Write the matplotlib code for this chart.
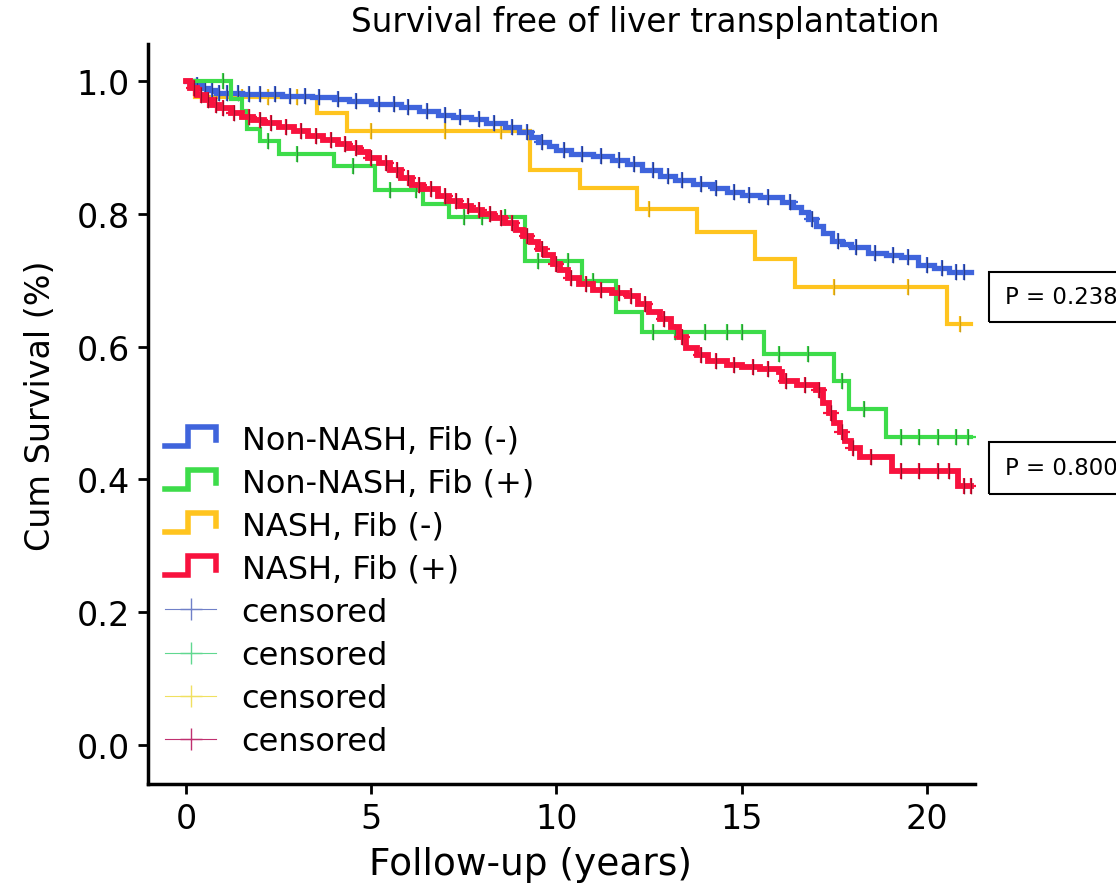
import numpy as np
import matplotlib
matplotlib.use("Agg")
import matplotlib.pyplot as plt
from matplotlib.lines import Line2D
from matplotlib.patches import Rectangle
from matplotlib.legend_handler import HandlerBase
from matplotlib import font_manager

# Kaplan-Meier curves (event times in years, survival after event)
end_time = 21.2

blue_t = [0.2, 0.4, 0.6, 0.8, 1.5, 2.6, 3.4, 4.0, 4.4, 5.0, 5.8, 6.3, 6.8, 7.2, 7.7, 8.1, 8.6, 9.0,
          9.3, 9.5, 9.8, 10.0, 10.4, 11.0, 11.5, 11.9, 12.3, 12.8, 13.2, 13.7, 14.2, 14.6, 15.0,
          15.5, 16.1, 16.4, 16.6, 16.8, 17.0, 17.2, 17.45, 17.7, 17.95, 18.4, 18.9, 19.3, 19.75,
          20.2, 20.6]
blue_s = [0.995, 0.99, 0.987, 0.983, 0.981, 0.978, 0.976, 0.973, 0.970, 0.966, 0.962, 0.956, 0.950,
          0.947, 0.943, 0.938, 0.932, 0.924, 0.916, 0.908, 0.902, 0.897, 0.890, 0.887, 0.881, 0.875,
          0.866, 0.857, 0.851, 0.845, 0.839, 0.833, 0.829, 0.825, 0.818, 0.810, 0.803, 0.792, 0.782,
          0.772, 0.760, 0.755, 0.750, 0.742, 0.738, 0.735, 0.724, 0.718, 0.713]
blue_cens = [0.3, 0.5, 0.7, 0.9, 1.1, 1.4, 1.7, 2.0, 2.4, 2.8, 3.2, 3.6, 4.1, 4.6, 5.2, 5.6, 6.0, 6.5,
             7.0, 7.4, 7.9, 8.3, 8.8, 9.2, 9.6, 10.2, 10.7, 11.2, 11.7, 12.1, 12.6, 13.0, 13.4, 13.9,
             14.3, 14.8, 15.2, 15.7, 16.3, 16.9, 17.6, 18.1, 18.6, 19.1, 19.5, 20.0, 20.4, 20.8, 21.0]

green_t = [1.2, 1.5, 1.65, 2.0, 2.5, 4.0, 5.1, 6.4, 7.1, 9.15, 10.7, 11.6, 12.3, 15.6, 17.5, 17.9, 18.9]
green_s = [0.973, 0.955, 0.928, 0.910, 0.890, 0.872, 0.837, 0.815, 0.795, 0.729, 0.699, 0.652, 0.622,
           0.589, 0.548, 0.506, 0.464]
green_cens = [1.0, 2.2, 3.0, 4.5, 5.5, 6.2, 7.5, 8.0, 8.6, 9.5, 10.3, 11.0, 12.6, 13.2, 14.0, 14.6,
              15.0, 16.0, 16.8, 17.7, 18.3, 19.3, 19.8, 20.3, 20.8, 21.1]

yellow_t = [0.25, 3.54, 4.35, 9.28, 10.63, 12.17, 13.79, 15.36, 16.44, 20.54]
yellow_s = [0.977, 0.953, 0.925, 0.867, 0.840, 0.807, 0.773, 0.732, 0.690, 0.634]
yellow_cens = [0.8, 1.5, 2.2, 3.0, 5.0, 7.0, 8.5, 12.5, 17.5, 19.5, 20.9]

red_t = [0.1, 0.3, 0.5, 0.7, 0.9, 1.2, 1.5, 1.8, 2.1, 2.5, 2.9, 3.3, 3.7, 4.1, 4.4, 4.7, 4.9, 5.2,
         5.5, 5.8, 6.1, 6.4, 6.8, 7.1, 7.4, 7.7, 8.0, 8.3, 8.6, 8.9, 9.1, 9.3, 9.5, 9.7, 9.9, 10.1,
         10.3, 10.6, 11.0, 11.5, 11.9, 12.2, 12.5, 12.8, 13.1, 13.3, 13.5, 13.8, 14.1, 14.6, 15.0,
         15.5, 16.0, 16.1, 16.5, 17.0, 17.2, 17.35, 17.5, 17.65, 17.8, 17.95, 18.2, 19.05, 20.85]
red_s = [0.99, 0.98, 0.972, 0.965, 0.96, 0.953, 0.947, 0.942, 0.937, 0.931, 0.925, 0.918, 0.912, 0.905,
         0.900, 0.893, 0.885, 0.877, 0.866, 0.855, 0.844, 0.838, 0.828, 0.820, 0.812, 0.806, 0.800,
         0.794, 0.787, 0.776, 0.767, 0.758, 0.748, 0.738, 0.725, 0.715, 0.703, 0.695, 0.686, 0.681,
         0.676, 0.665, 0.652, 0.642, 0.630, 0.615, 0.598, 0.588, 0.578, 0.573, 0.569, 0.566, 0.562,
         0.549, 0.543, 0.535, 0.515, 0.500, 0.485, 0.471, 0.458, 0.447, 0.434, 0.413, 0.390]
red_cens = [0.2, 0.4, 0.6, 0.8, 1.0, 1.3, 1.7, 2.0, 2.3, 2.7, 3.1, 3.5, 3.9, 4.3, 4.6, 5.0, 5.4, 5.7,
            6.0, 6.3, 6.6, 7.0, 7.3, 7.6, 7.9, 8.2, 8.5, 8.8, 9.2, 9.6, 10.0, 10.4, 10.8, 11.2, 11.7,
            12.0, 12.4, 12.9, 13.4, 13.9, 14.3, 14.8, 15.3, 15.7, 16.2, 16.7, 17.1, 17.4, 17.7, 18.0,
            18.5, 19.3, 19.8, 20.3, 20.6, 21.0, 21.2]

labels = ["Non-NASH, Fib (-)", "Non-NASH, Fib (+)", "NASH, Fib (-)", "NASH, Fib (+)"]
p_values = ["P = 0.238", "P = 0.800"]

names = {f.name for f in font_manager.fontManager.ttflist}
narrow = "Liberation Sans Narrow" if "Liberation Sans Narrow" in names else "DejaVu Sans"

c_blue, c_green, c_yellow, c_red = "#3f64dc", "#3ddc4a", "#ffc41f", "#f8123e"


class StepHandler(HandlerBase):
    def create_artists(self, legend, orig_handle, xdescent, ydescent, width, height, fontsize, trans):
        x0, y0 = -xdescent, -ydescent
        xs = [x0, x0 + 0.45 * width, x0 + 0.45 * width, x0 + width, x0 + width]
        ys = [y0 + 0.1 * height, y0 + 0.1 * height, y0 + 0.95 * height, y0 + 0.95 * height, y0 + 0.35 * height]
        ln = Line2D(xs, ys, color=orig_handle.get_color(), lw=4, solid_joinstyle="miter")
        ln.set_transform(trans)
        return [ln]


def km(ax, t, s, cens, color, lw, dark):
    tt = np.concatenate([[0.0], t, [end_time]])
    ss = np.concatenate([[1.0], s, [s[-1]]])
    ax.step(tt, ss, where="post", color=color, lw=lw, solid_joinstyle="miter")
    idx = np.searchsorted(t, cens, side="right")
    cy = np.concatenate([[1.0], s])[idx]
    ax.plot(cens, cy, ls="none", marker="+", ms=11, mew=1.6, color=color)
    ax.plot(cens, cy, ls="none", marker="|", ms=12, mew=0.9, color=dark, alpha=0.6)


fig = plt.figure(figsize=(11.16, 8.87), dpi=100)
ax = fig.add_axes([0.1326, 0.115, 0.741, 0.834])

km(ax, yellow_t, yellow_s, yellow_cens, c_yellow, 3.0, "#b08a10")
km(ax, blue_t, blue_s, blue_cens, c_blue, 3.8, "#1a2250")
km(ax, green_t, green_s, green_cens, c_green, 3.0, "#1f6a28")
km(ax, red_t, red_s, red_cens, c_red, 4.2, "#5a0a18")

ax.set_xlim(-1.03, 21.3)
ax.set_ylim(-0.059, 1.056)
ax.set_xticks([0, 5, 10, 15, 20])
ax.set_yticks([0.0, 0.2, 0.4, 0.6, 0.8, 1.0])
ax.set_yticklabels(["0.0", "0.2", "0.4", "0.6", "0.8", "1.0"])
for side in ["top", "right"]:
    ax.spines[side].set_visible(False)
for side in ["left", "bottom"]:
    ax.spines[side].set_linewidth(2.5)
ax.tick_params(direction="out", length=7, width=2, labelsize=24, pad=6)

fig.text(0.578, 0.975, "Survival free of liver transplantation", ha="center", va="center", fontsize=23.5)
fig.text(0.036, 0.543, "Cum Survival (%)", rotation=90, ha="center", va="center", fontsize=24)
fig.text(0.475, 0.025, "Follow-up (years)", ha="center", va="center", fontsize=27)

# legend: step icons for groups, plus markers for censored
step_handles = [Line2D([], [], color=c) for c in [c_blue, c_green, c_yellow, c_red]]
cens_handles = [Line2D([], [], color=c, lw=0.8, marker="+", ms=16, mew=1.0)
                for c in ["#7080c8", "#60d890", "#f0e060", "#c03070"]]
leg = fig.legend(step_handles + cens_handles, labels + ["censored"] * 4,
                 loc="upper left", bbox_to_anchor=(165 / 1116, 1 - 425 / 887),
                 frameon=False, fontsize=23, handlelength=1.6, handletextpad=0.8,
                 labelspacing=0.38, borderpad=0, borderaxespad=0,
                 handler_map={h: StepHandler() for h in step_handles})

# p-value boxes at the right edge
for (top, bot), txt in zip([(273, 323), (443, 495)], p_values):
    fig.add_artist(Rectangle((989 / 1116, 1 - bot / 887), 0.2, (bot - top) / 887,
                             transform=fig.transFigure, fill=False, lw=1.5, ec="black", clip_on=False))
    fig.text(1005 / 1116, 1 - (top + bot) / 2 / 887, txt, family=narrow, fontsize=16.5,
             ha="left", va="center")

fig.savefig("out.png", dpi=100)
